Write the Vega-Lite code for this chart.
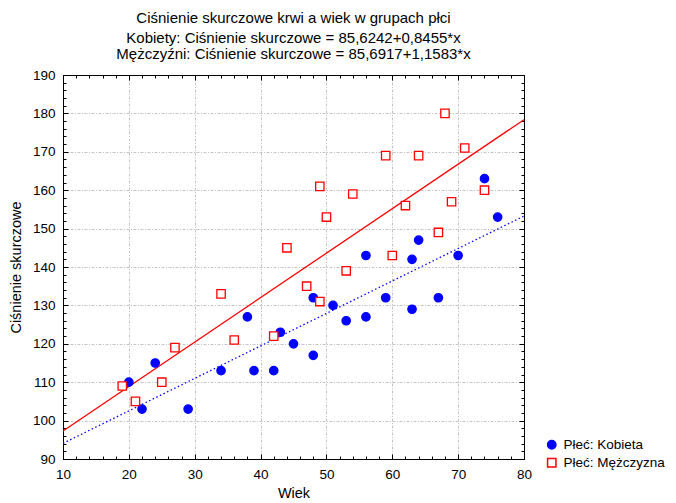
{
  "$schema": "https://vega.github.io/schema/vega-lite/v6.json",
  "width": 461,
  "height": 384,
  "autosize": {"type": "none"},
  "padding": {"left": 63, "top": 75, "right": 152, "bottom": 44},
  "background": "white",
  "config": {
    "view": {"stroke": "black", "strokeWidth": 1},
    "font": "Liberation Sans"
  },
  "title": {
    "text": "Ciśnienie skurczowe krwi a wiek w grupach płci",
    "subtitle": ["Kobiety: Ciśnienie skurczowe = 85,6242+0,8455*x", "Mężczyźni: Ciśnienie skurczowe = 85,6917+1,1583*x"],
    "font": "Liberation Sans",
    "fontSize": 15,
    "fontWeight": "normal",
    "color": "black",
    "subtitleFont": "Liberation Sans",
    "subtitleFontSize": 15,
    "subtitleColor": "black",
    "subtitlePadding": 5,
    "subtitleLineHeight": 16,
    "anchor": "middle",
    "offset": 6
  },
  "datasets": {
    "pts": [
      {"plec": "Kobieta", "wiek": 20, "cs": 110},
      {"plec": "Kobieta", "wiek": 22, "cs": 103},
      {"plec": "Kobieta", "wiek": 24, "cs": 115},
      {"plec": "Kobieta", "wiek": 29, "cs": 103},
      {"plec": "Kobieta", "wiek": 34, "cs": 113},
      {"plec": "Kobieta", "wiek": 38, "cs": 127},
      {"plec": "Kobieta", "wiek": 39, "cs": 113},
      {"plec": "Kobieta", "wiek": 42, "cs": 113},
      {"plec": "Kobieta", "wiek": 43, "cs": 123},
      {"plec": "Kobieta", "wiek": 45, "cs": 120},
      {"plec": "Kobieta", "wiek": 48, "cs": 132},
      {"plec": "Kobieta", "wiek": 48, "cs": 117},
      {"plec": "Kobieta", "wiek": 51, "cs": 130},
      {"plec": "Kobieta", "wiek": 53, "cs": 126},
      {"plec": "Kobieta", "wiek": 56, "cs": 143},
      {"plec": "Kobieta", "wiek": 56, "cs": 127},
      {"plec": "Kobieta", "wiek": 59, "cs": 132},
      {"plec": "Kobieta", "wiek": 63, "cs": 142},
      {"plec": "Kobieta", "wiek": 63, "cs": 129},
      {"plec": "Kobieta", "wiek": 64, "cs": 147},
      {"plec": "Kobieta", "wiek": 67, "cs": 132},
      {"plec": "Kobieta", "wiek": 70, "cs": 143},
      {"plec": "Kobieta", "wiek": 74, "cs": 163},
      {"plec": "Kobieta", "wiek": 76, "cs": 153},
      {"plec": "Mężczyzna", "wiek": 19, "cs": 109},
      {"plec": "Mężczyzna", "wiek": 21, "cs": 105},
      {"plec": "Mężczyzna", "wiek": 25, "cs": 110},
      {"plec": "Mężczyzna", "wiek": 27, "cs": 119},
      {"plec": "Mężczyzna", "wiek": 34, "cs": 133},
      {"plec": "Mężczyzna", "wiek": 36, "cs": 121},
      {"plec": "Mężczyzna", "wiek": 42, "cs": 122},
      {"plec": "Mężczyzna", "wiek": 44, "cs": 145},
      {"plec": "Mężczyzna", "wiek": 47, "cs": 135},
      {"plec": "Mężczyzna", "wiek": 49, "cs": 131},
      {"plec": "Mężczyzna", "wiek": 49, "cs": 161},
      {"plec": "Mężczyzna", "wiek": 50, "cs": 153},
      {"plec": "Mężczyzna", "wiek": 53, "cs": 139},
      {"plec": "Mężczyzna", "wiek": 54, "cs": 159},
      {"plec": "Mężczyzna", "wiek": 59, "cs": 169},
      {"plec": "Mężczyzna", "wiek": 60, "cs": 143},
      {"plec": "Mężczyzna", "wiek": 62, "cs": 156},
      {"plec": "Mężczyzna", "wiek": 64, "cs": 169},
      {"plec": "Mężczyzna", "wiek": 67, "cs": 149},
      {"plec": "Mężczyzna", "wiek": 68, "cs": 180},
      {"plec": "Mężczyzna", "wiek": 69, "cs": 157},
      {"plec": "Mężczyzna", "wiek": 71, "cs": 171},
      {"plec": "Mężczyzna", "wiek": 74, "cs": 160}
    ],
    "lines": [
      {"plec": "Kobieta", "wiek": 10, "cs": 94.08},
      {"plec": "Kobieta", "wiek": 80, "cs": 153.27},
      {"plec": "Mężczyzna", "wiek": 10, "cs": 97.27},
      {"plec": "Mężczyzna", "wiek": 80, "cs": 178.36}
    ]
  },
  "resolve": {"axis": {"x": "independent", "y": "independent"}},
  "layer": [
    {
      "data": {"name": "lines"},
      "transform": [{"filter": "datum.plec === 'Kobieta'"}],
      "mark": {"type": "line", "strokeWidth": 1.3, "color": "#0000ff", "strokeDash": [1.5, 2.5], "clip": true},
      "encoding": {
        "x": {
          "field": "wiek", "type": "quantitative",
          "scale": {"domain": [10, 80], "nice": false, "zero": false},
          "axis": {
            "orient": "bottom",
            "title": "Wiek",
            "values": [10,12,14,16,18,20,22,24,26,28,30,32,34,36,38,40,42,44,46,48,50,52,54,56,58,60,62,64,66,68,70,72,74,76,78,80],
            "labelExpr": "datum.value % 10 === 0 ? datum.label : ''",
            "labelFlush": false,
            "labelOverlap": false,
            "labelFont": "Liberation Sans",
            "labelFontSize": 13.5,
            "labelColor": "black",
            "labelPadding": 13,
            "titleFont": "Liberation Sans",
            "titleFontSize": 14.5,
            "titleFontWeight": "normal",
            "titleColor": "black",
            "titlePadding": 4,
            "domainColor": "black",
            "tickColor": "black",
            "tickSize": {"condition": {"test": "datum.value % 10 === 0", "value": -5}, "value": -3},
            "grid": true,
            "gridColor": "#c4c4c4",
            "gridDash": [3, 1.5, 1, 1.5],
            "gridOpacity": {"condition": {"test": "datum.value % 10 === 0", "value": 1}, "value": 0}
          }
        },
        "y": {
          "field": "cs", "type": "quantitative",
          "scale": {"domain": [90, 190], "nice": false, "zero": false},
          "axis": {
            "orient": "left",
            "title": "Ciśnienie skurczowe",
            "values": [90,92,94,96,98,100,102,104,106,108,110,112,114,116,118,120,122,124,126,128,130,132,134,136,138,140,142,144,146,148,150,152,154,156,158,160,162,164,166,168,170,172,174,176,178,180,182,184,186,188,190],
            "labelExpr": "datum.value % 10 === 0 ? datum.label : ''",
            "labelFlush": false,
            "labelOverlap": false,
            "labelFont": "Liberation Sans",
            "labelFontSize": 13.5,
            "labelColor": "black",
            "labelPadding": 13,
            "titleFont": "Liberation Sans",
            "titleFontSize": 14.5,
            "titleFontWeight": "normal",
            "titleColor": "black",
            "titlePadding": 9,
            "domainColor": "black",
            "tickColor": "black",
            "tickSize": {"condition": {"test": "datum.value % 10 === 0", "value": -5}, "value": -3},
            "grid": true,
            "gridColor": "#c4c4c4",
            "gridDash": [3, 1.5, 1, 1.5],
            "gridOpacity": {"condition": {"test": "datum.value % 10 === 0", "value": 1}, "value": 0}
          }
        }
      }
    },
    {
      "data": {"name": "lines"},
      "transform": [{"filter": "datum.plec === 'Mężczyzna'"}],
      "mark": {"type": "line", "strokeWidth": 1.3, "color": "#ff0000", "clip": true},
      "encoding": {
        "x": {"field": "wiek", "type": "quantitative", "axis": null},
        "y": {"field": "cs", "type": "quantitative", "axis": null}
      }
    },
    {
      "data": {"name": "pts"},
      "mark": {"type": "point", "size": 70, "strokeWidth": 1.3, "opacity": 1},
      "encoding": {
        "x": {
          "field": "wiek", "type": "quantitative",
          "axis": {
            "orient": "top", "title": null, "labels": false, "grid": false,
            "values": [10,12,14,16,18,20,22,24,26,28,30,32,34,36,38,40,42,44,46,48,50,52,54,56,58,60,62,64,66,68,70,72,74,76,78,80],
            "domainColor": "black", "tickColor": "black",
            "tickSize": {"condition": {"test": "datum.value % 10 === 0", "value": -5}, "value": -3}
          }
        },
        "y": {
          "field": "cs", "type": "quantitative",
          "axis": {
            "orient": "right", "title": null, "labels": false, "grid": false,
            "values": [90,92,94,96,98,100,102,104,106,108,110,112,114,116,118,120,122,124,126,128,130,132,134,136,138,140,142,144,146,148,150,152,154,156,158,160,162,164,166,168,170,172,174,176,178,180,182,184,186,188,190],
            "domainColor": "black", "tickColor": "black",
            "tickSize": {"condition": {"test": "datum.value % 10 === 0", "value": -5}, "value": -3}
          }
        },
        "shape": {"field": "plec", "type": "nominal", "scale": {"domain": ["Kobieta", "Mężczyzna"], "range": ["circle", "square"]},
          "legend": {"title": null, "orient": "none", "legendX": 482, "legendY": 363, "labelExpr": "'Płeć: ' + datum.label", "labelFont": "Liberation Sans", "labelFontSize": 13.5, "labelColor": "black", "symbolSize": 70, "rowPadding": 3, "labelOffset": 5}},
        "fill": {"field": "plec", "type": "nominal", "scale": {"domain": ["Kobieta", "Mężczyzna"], "range": ["#0000ff", "#ffffff"]},
          "legend": {"title": null, "orient": "none", "legendX": 482, "legendY": 363, "labelExpr": "'Płeć: ' + datum.label", "labelFont": "Liberation Sans", "labelFontSize": 13.5, "labelColor": "black", "symbolSize": 70, "rowPadding": 3, "labelOffset": 5}},
        "stroke": {"field": "plec", "type": "nominal", "scale": {"domain": ["Kobieta", "Mężczyzna"], "range": ["#0000ff", "#ff0000"]},
          "legend": {"title": null, "orient": "none", "legendX": 482, "legendY": 363, "labelExpr": "'Płeć: ' + datum.label", "labelFont": "Liberation Sans", "labelFontSize": 13.5, "labelColor": "black", "symbolSize": 70, "rowPadding": 3, "labelOffset": 5}}
      }
    }
  ]
}
